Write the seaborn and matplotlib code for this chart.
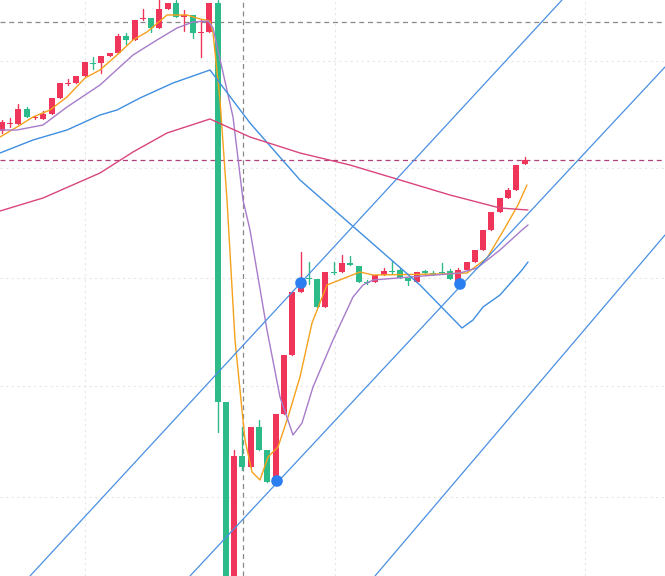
import numpy as np
import pandas as pd
import seaborn as sns
import matplotlib.pyplot as plt

sns.set_theme(style="white")

# candles: open, close, high, low (chart units, y grows downward as on screen)
opens = [131, 124, 124, 109, 118, 119, 114, 98, 84, 83, 76, 63, 63, 56, 53, 36, 40, 19, 18, 28, 9, 3, 17, 15, 33, 32,
         3, 402, 600, 456, 467, 427, 450, 480, 414, 355, 292, 278, 279, 307, 272, 272, 263, 266, 282, 282, 275, 271,
         270, 278, 282, 271, 273, 272, 271, 283, 270, 262, 250, 230, 212, 198, 190, 164]
closes = [122, 123, 109, 117, 117, 114, 98, 83, 83, 76, 62, 63, 56, 53, 36, 40, 20, 18, 28, 9, 3, 17, 15, 33, 32, 3,
          402, 620, 456, 467, 427, 450, 482, 414, 355, 292, 282, 279, 307, 272, 272, 263, 265, 282, 282, 275, 271, 271,
          278, 281, 272, 273, 273, 272, 279, 270, 262, 250, 230, 212, 198, 190, 165, 160]
highs = [120, 118, 104, 107, 116, 111, 98, 83, 79, 76, 62, 57, 56, 53, 34, 33, 20, 9, 18, 0, 3, 0, 10, 15, 20, 3,
         0, 402, 450, 427, 427, 420, 450, 414, 355, 292, 252, 262, 279, 272, 262, 255, 256, 266, 280, 275, 268, 261,
         268, 278, 272, 270, 271, 263, 269, 268, 262, 250, 230, 212, 198, 188, 165, 157]
lows = [133, 127, 124, 117, 119, 119, 114, 98, 85, 83, 76, 69, 73, 56, 53, 44, 40, 20, 32, 28, 9, 17, 31, 38, 57, 32,
        432, 640, 600, 470, 467, 450, 482, 480, 414, 355, 292, 284, 307, 307, 274, 272, 265, 282, 284, 282, 275, 273,
        278, 285, 282, 274, 275, 274, 279, 283, 270, 262, 250, 230, 212, 198, 190, 164]

# moving average traces (screen x, y)
ma5_x = [0, 17, 33, 50, 67, 85, 100, 117, 133, 147, 167, 187, 200, 210, 213, 220, 227, 235, 245, 252, 260, 268, 278,
         288, 300, 312, 327, 360, 373, 440, 467, 487, 502, 518, 527]
ma5_y = [137, 127, 117, 110, 97, 78, 70, 55, 40, 32, 15, 15, 19, 21, 33, 100, 200, 340, 440, 472, 480, 457, 447, 417,
         377, 323, 285, 272, 275, 274, 273, 258, 233, 205, 185]
ma10_x = [0, 17, 43, 67, 100, 133, 157, 177, 193, 208, 213, 233, 243, 250, 267, 280, 293, 302, 313, 333, 353, 363,
          373, 460, 477, 500, 522, 528]
ma10_y = [130, 130, 125, 107, 85, 55, 40, 28, 22, 21, 28, 117, 200, 230, 330, 397, 435, 423, 387, 340, 297, 285, 280,
          273, 268, 250, 230, 225]
ma30_x = [0, 33, 67, 100, 117, 140, 173, 210, 250, 300, 340, 380, 420, 462, 473, 483, 500, 522, 528]
ma30_y = [153, 140, 130, 115, 110, 98, 83, 70, 123, 180, 215, 250, 285, 328, 320, 307, 295, 270, 262]
ma60_x = [0, 43, 100, 133, 167, 210, 250, 300, 350, 400, 450, 500, 528]
ma60_y = [211, 198, 173, 152, 133, 119, 137, 153, 165, 180, 195, 208, 210]

# channel lines (start and end points) and pivot dots
chan_x = [[30, 562], [190, 665], [375, 665]]
chan_y = [[576, 0], [576, 67], [576, 235]]
dot_x = [301, 460, 277]
dot_y = [283, 284, 481]

W, H = 665, 576
fig = plt.figure(figsize=(6.65, 5.76), dpi=100)
ax = fig.add_axes([0, 0, 1, 1])
ax.set_xlim(0, W)
ax.set_ylim(H, 0)
ax.axis("off")

# grid
for gy in [61, 168, 278, 386, 497]:
    ax.axhline(gy, color="#e6e6e6", lw=0.8, ls=(0, (2, 3)), zorder=0)
for gx in [85, 335, 585]:
    ax.axvline(gx, color="#e6e6e6", lw=0.8, ls=(0, (2, 3)), zorder=0)

red, green = "#f0355a", "#2dbb8a"
xs = 1.7 + 8.3 * np.arange(len(opens))
for x, o, c, h, l in zip(xs, opens, closes, highs, lows):
    col = red if c < o else green  # rising candles red
    ax.plot([x, x], [h, l], color=col, lw=1, zorder=2)
    top, bot = min(o, c), max(o, c)
    ax.add_patch(plt.Rectangle((x - 3, top), 6, max(bot - top, 1.2), color=col, zorder=3, lw=0))

lines = [(ma5_x, ma5_y, "#f5a11c"), (ma10_x, ma10_y, "#a77bc9"), (ma30_x, ma30_y, "#3f8ee0"),
         (ma60_x, ma60_y, "#d9457d")]
for lx, ly, col in lines:
    sns.lineplot(x=lx, y=ly, ax=ax, color=col, lw=1, sort=False, zorder=4)

for cx, cy in zip(chan_x, chan_y):
    ax.plot(cx, cy, color="#4a90e2", lw=0.9, zorder=4)

ax.axhline(22, color="#888888", lw=0.9, ls=(0, (4, 3)), zorder=1)
ax.axhline(160, color="#b0417a", lw=0.9, ls=(0, (4, 3)), zorder=1)
ax.axvline(243, color="#888888", lw=0.9, ls=(0, (4, 3)), zorder=1)

sns.scatterplot(x=dot_x, y=dot_y, ax=ax, color="#2a7ef0", s=70, edgecolor="none", zorder=6)

fig.savefig("out.png", dpi=100)
